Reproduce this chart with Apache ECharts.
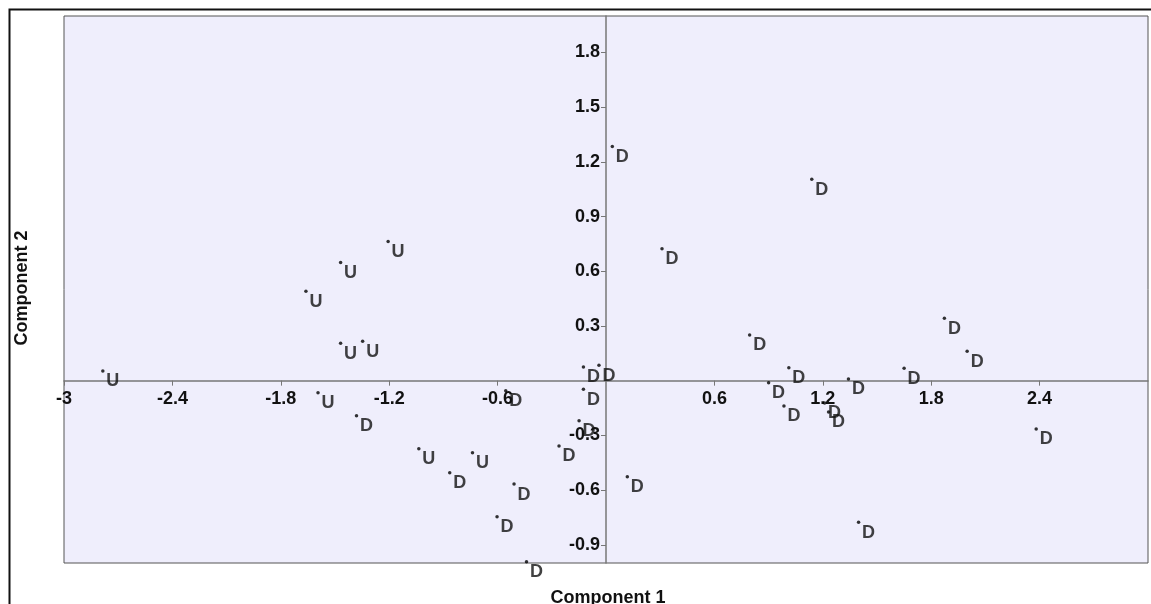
<!DOCTYPE html>
<html>
<head>
<meta charset="utf-8">
<script src="https://cdn.jsdelivr.net/npm/echarts@6/dist/echarts.min.js"></script>
<style>
html,body{margin:0;padding:0;background:#fff;}
#c{width:1151px;height:604px;}
</style>
</head>
<body>
<div id="c"></div>
<script>
// Tick labels
const xTicks = [-3, -2.4, -1.8, -1.2, -0.6, 0.6, 1.2, 1.8, 2.4];
const yTicks = [-0.9, -0.6, -0.3, 0.3, 0.6, 0.9, 1.2, 1.5, 1.8];

// Group U
const uX = [-2.785, -1.469, -1.661, -1.206, -1.469, -1.347, -1.594, -1.036, -0.739];
const uY = [0.053, 0.648, 0.491, 0.763, 0.205, 0.216, -0.066, -0.373, -0.395];

// Group D
const dX = [-1.381, -0.865, -0.509, -0.603, -0.44, -0.26, -0.149, 0.118, 0.985, 0.31,
            0.795, -0.125, -0.039, -0.125, 0.9, 1.012, -0.555, 0.035, 1.139, 1.873,
            1.999, 1.65, 1.342, 1.21, 1.232, 2.381, 1.398];
const dY = [-0.192, -0.505, -0.567, -0.746, -0.993, -0.358, -0.22, -0.527, -0.139, 0.723,
            0.251, 0.075, 0.085, -0.047, -0.011, 0.071, -0.055, 1.284, 1.105, 0.342,
            0.161, 0.068, 0.009, -0.122, -0.172, -0.265, -0.777];

const zip = (a, b) => a.map((v, i) => [v, b[i]]);

const FONT = 'Liberation Sans, Arial, sans-serif';
const FS = 18;
const labelStyle = {
  show: true,
  formatter: p => p.seriesName,
  position: 'inside',
  align: 'left',
  verticalAlign: 'middle',
  offset: [3.5, 10.5],
  color: '#111',
  fontFamily: FONT,
  fontWeight: 'bold',
  fontSize: FS
};

const GRID = { left: 64, top: 16, right: 3, bottom: 41 };
const W = 1151, H = 604;
const gw = W - GRID.left - GRID.right;
const gh = H - GRID.top - GRID.bottom;
const X_MIN = -3, X_MAX = 3, Y_MIN = -1, Y_MAX = 2;

// axis with line + ticks crossing at zero
function lineAxis(min, max, ticks) {
  return {
    type: 'value', min: min, max: max,
    axisLine: { show: true, onZero: true, lineStyle: { color: '#777', width: 1.5 } },
    splitLine: { show: false },
    axisTick: { show: true, length: 5, inside: false, customValues: ticks, lineStyle: { color: '#777', width: 1 } },
    axisLabel: { show: false }
  };
}
// axis carrying the tick labels, shifted to the zero position
function labelAxis(min, max, ticks, pos, off, margin) {
  return {
    type: 'value', min: min, max: max, position: pos, offset: off,
    axisLine: { show: false, onZero: false },
    splitLine: { show: false },
    axisTick: { show: false },
    axisLabel: { show: true, customValues: ticks, margin: margin, color: '#111',
                 fontFamily: FONT, fontWeight: 'bold', fontSize: FS }
  };
}

const chart = echarts.init(document.getElementById('c'));
chart.setOption({
  animation: false,
  backgroundColor: '#fff',
  grid: Object.assign({}, GRID, {
    show: true, backgroundColor: '#EFEEFC', borderColor: '#555', borderWidth: 1
  }),
  xAxis: [
    lineAxis(X_MIN, X_MAX, xTicks),
    labelAxis(X_MIN, X_MAX, xTicks, 'bottom', -gh * (0 - Y_MIN) / (Y_MAX - Y_MIN), 9)
  ],
  yAxis: [
    lineAxis(Y_MIN, Y_MAX, yTicks),
    labelAxis(Y_MIN, Y_MAX, yTicks, 'left', -gw * (0 - X_MIN) / (X_MAX - X_MIN), 6)
  ],
  graphic: [
    { type: 'rect', left: 7, top: 7, shape: { x: 0, y: 0, width: 1180, height: 640 },
      style: { fill: 'none', stroke: '#111', lineWidth: 2 }, silent: true, z: 100 },
    { type: 'text', x: 608, y: 598,
      style: { text: 'Component 1', fill: '#111', font: 'bold 18px Liberation Sans, Arial, sans-serif',
               textAlign: 'center', textVerticalAlign: 'middle' } },
    { type: 'text', x: 22, y: 288, rotation: Math.PI / 2,
      style: { text: 'Component 2', fill: '#111', font: 'bold 18px Liberation Sans, Arial, sans-serif',
               textAlign: 'center', textVerticalAlign: 'middle' } }
  ],
  series: [
    { name: 'U', type: 'scatter', xAxisIndex: 0, yAxisIndex: 0, data: zip(uX, uY),
      symbol: 'circle', symbolSize: 3.5,
      itemStyle: { color: '#000' }, label: labelStyle, clip: false },
    { name: 'D', type: 'scatter', xAxisIndex: 0, yAxisIndex: 0, data: zip(dX, dY),
      symbol: 'circle', symbolSize: 3.5,
      itemStyle: { color: '#000' }, label: labelStyle, clip: false }
  ]
});
</script>
</body>
</html>
